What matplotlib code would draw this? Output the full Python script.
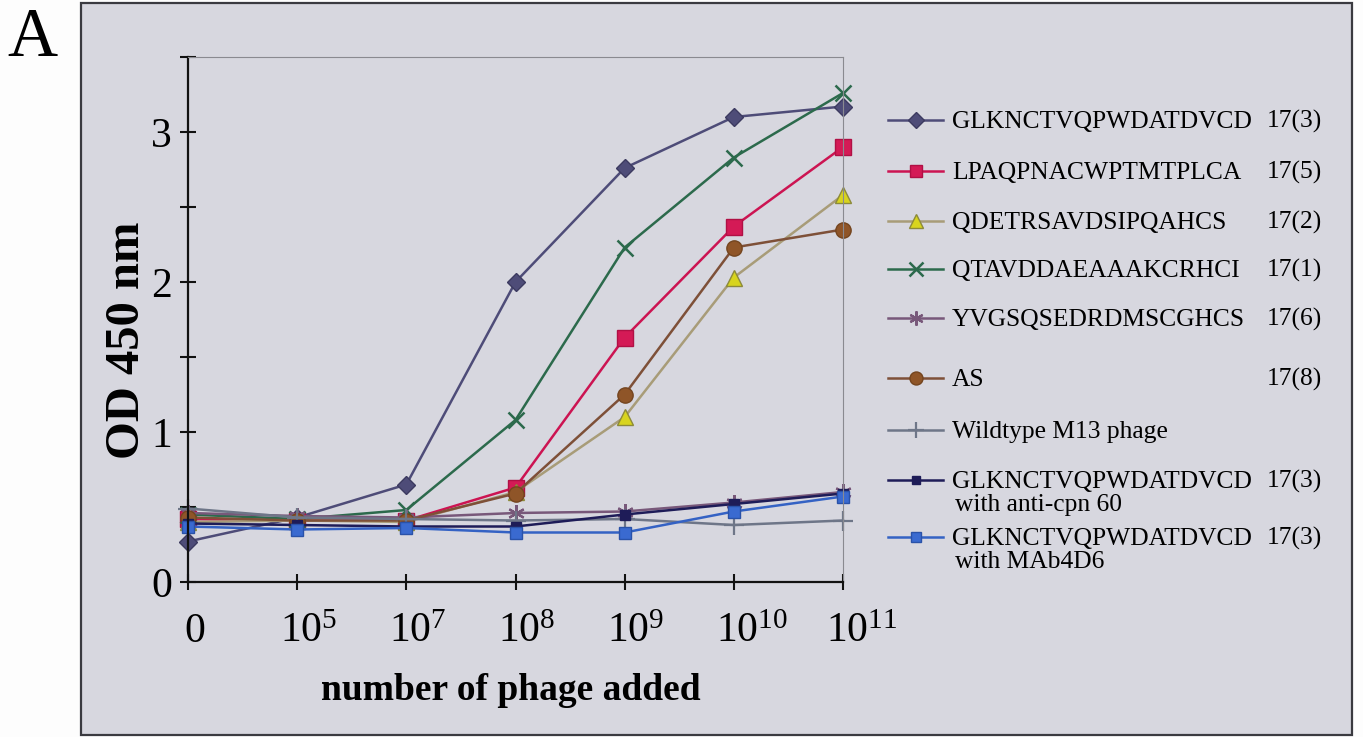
import numpy as np
import matplotlib
matplotlib.use("Agg")
import matplotlib.pyplot as plt
from matplotlib.lines import Line2D
from matplotlib.patches import Rectangle
from matplotlib.transforms import ScaledTranslation

plt.rcParams["font.family"] = ["Liberation Serif", "DejaVu Serif"]
plt.rcParams["mathtext.fontset"] = "custom"
plt.rcParams["mathtext.rm"] = "Liberation Serif"

# ---- data -------------------------------------------------------------
doses = ["0", "10^{5}", "10^{7}", "10^{8}", "10^{9}", "10^{10}", "10^{11}"]

glk_17_3 = [0.27, 0.43, 0.65, 2.00, 2.76, 3.10, 3.17]
lpa_17_5 = [0.42, 0.41, 0.41, 0.63, 1.63, 2.37, 2.90]
qde_17_2 = [0.40, 0.41, 0.40, 0.60, 1.10, 2.03, 2.58]
qta_17_1 = [0.45, 0.42, 0.48, 1.08, 2.23, 2.83, 3.26]
yvg_17_6 = [0.46, 0.44, 0.43, 0.46, 0.47, 0.53, 0.60]
as_17_8 = [0.43, 0.41, 0.41, 0.59, 1.25, 2.23, 2.35]
wildtype = [0.49, 0.43, 0.42, 0.41, 0.42, 0.38, 0.41]
glk_anti_cpn60 = [0.39, 0.38, 0.37, 0.37, 0.45, 0.52, 0.59]
glk_mab4d6 = [0.37, 0.35, 0.36, 0.33, 0.33, 0.47, 0.57]

names = ["GLKNCTVQPWDATDVCD", "LPAQPNACWPTMTPLCA", "QDETRSAVDSIPQAHCS",
         "QTAVDDAEAAAKCRHCI", "YVGSQSEDRDMSCGHCS", "AS",
         "Wildtype M13 phage", "GLKNCTVQPWDATDVCD", "GLKNCTVQPWDATDVCD"]
clones = ["17(3)", "17(5)", "17(2)", "17(1)", "17(6)", "17(8)", "", "17(3)", "17(3)"]
second_lines = ["", "", "", "", "", "", "", "with anti-cpn 60", "with MAb4D6"]

series = [glk_17_3, lpa_17_5, qde_17_2, qta_17_1, yvg_17_6, as_17_8,
          wildtype, glk_anti_cpn60, glk_mab4d6]

# ---- styles -----------------------------------------------------------
styles = [
    dict(color="#4e4c78", marker="D", ms=9, mfc="#4e4c78", mec="#3c3a60"),
    dict(color="#cc1452", marker="s", ms=11, mfc="#d41a56", mec="#b01045"),
    dict(color="#a89c78", marker="^", ms=12, mfc="#d8d41e", mec="#8c8a3a"),
    dict(color="#2c6a4c", marker="x", ms=12, mfc="#2c6a4c", mec="#2c6a4c", mew=1.8),
    dict(color="#78587a", marker=(6, 2, 0), ms=12, mfc="#78587a", mec="#78587a", mew=1.6),
    dict(color="#7e5038", marker="o", ms=11, mfc="#8f5528", mec="#74451f"),
    dict(color="#6e7688", marker="+", ms=14, mfc="#6e7688", mec="#6e7688", mew=1.6),
    dict(color="#1e1c58", marker="s", ms=7, mfc="#1e1c58", mec="#1e1c58"),
    dict(color="#3462c4", marker="s", ms=9, mfc="#3a6ad0", mec="#2a52a8"),
]

W, H = 1363, 737
fig = plt.figure(figsize=(W / 100, H / 100), dpi=100)
fig.patch.set_facecolor("#fdfdfd")

# grey panel behind the chart
panel = Rectangle((81 / W, 1 - 735 / H), (1352 - 81) / W, (735 - 3) / H,
                  transform=fig.transFigure, facecolor="#d7d7df",
                  edgecolor="#3a3a40", linewidth=1.6, zorder=-5)
fig.patches.append(panel)

ax = fig.add_axes([188 / W, 1 - 582 / H, (843 - 188) / W, (582 - 57) / H])
ax.set_facecolor("none")
ax.set_zorder(2)

x = np.arange(len(doses))
for vals, st in zip(series, styles):
    ax.plot(x, vals, linewidth=1.8, clip_on=False, **st)

ax.set_xlim(0, len(doses) - 1)
ax.set_ylim(0, 3.5)

for side in ("top", "right"):
    ax.spines[side].set_color("#8a8a90")
    ax.spines[side].set_linewidth(0.8)
for side in ("left", "bottom"):
    ax.spines[side].set_color("#111111")
    ax.spines[side].set_linewidth(1.6)

yt = np.arange(0, 3.51, 0.5)
ax.set_yticks(yt)
ax.set_yticklabels([f"{v:g}" if float(v).is_integer() else "" for v in yt])
ax.set_xticks(x)
ax.set_xticklabels([r"$\mathregular{%s}$" % d if d != "0" else d for d in doses])

ax.tick_params(axis="both", direction="inout", length=12, width=1.5,
               color="#111111", labelsize=30)
ax.tick_params(axis="y", pad=5.5)
ax.tick_params(axis="x", pad=37)

for lab in ax.get_xticklabels():
    lab.set_verticalalignment("baseline")
    lab.set_horizontalalignment("left")
    dx = -3.5 if lab.get_text() == "0" else -17.5
    lab.set_transform(lab.get_transform() + ScaledTranslation(dx / 100, 0, fig.dpi_scale_trans))

fig.text(511 / W, 1 - 690 / H, "number of phage added", ha="center", va="center",
         fontsize=27, fontweight="bold")
fig.text(127 / W, 1 - 340 / H, "OD 450 nm", ha="center", va="center",
         rotation=90, fontsize=35, fontweight="bold")
fig.text(32 / W, 1 - 56 / H, "A", ha="center", va="baseline", fontsize=50)

# legend, drawn entry by entry
row_y = [120, 171, 221, 269, 318, 378, 430, 480, 537]
for yc, name, clone, extra, st in zip(row_y, names, clones, second_lines, styles):
    fy = 1 - yc / H
    key = dict(st)
    key["ms"] = st["ms"] * 0.85
    ln = Line2D([888 / W, 915.5 / W, 943 / W], [fy, fy, fy], transform=fig.transFigure,
                linewidth=1.8, markevery=[1], **key)
    fig.lines.append(ln)
    base = 1 - (yc + 8) / H
    fig.text(952 / W, base, name, ha="left", va="baseline", fontsize=18.4)
    if clone:
        fig.text(1322 / W, base, clone, ha="right", va="baseline", fontsize=18.4)
    if extra:
        fig.text(955 / W, base - 23 / H, extra, ha="left", va="baseline", fontsize=18.4)

fig.savefig("out.png", dpi=100, facecolor=fig.get_facecolor())
